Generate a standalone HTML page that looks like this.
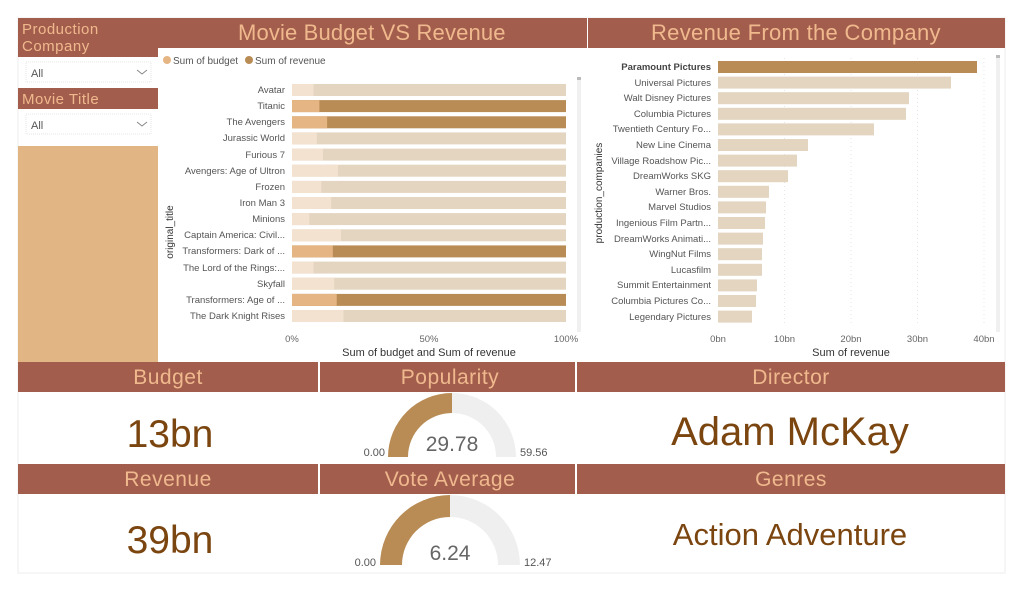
<!DOCTYPE html>
<html><head><meta charset="utf-8"><style>
html,body{margin:0;padding:0;background:#fff;}
svg{display:block;font-family:"Liberation Sans",sans-serif;}
</style></head><body>
<svg width="1024" height="592" viewBox="0 0 1024 592" xmlns="http://www.w3.org/2000/svg">
<rect width="1024" height="592" fill="#fff"/>
<rect x="18" y="18" width="987" height="555" fill="none" stroke="#eeeeee"/>
<rect x="18" y="18" width="140" height="39" fill="#a35d4d"/>
<text x="22" y="34" font-size="15" fill="#efb98d" letter-spacing="0.5">Production</text>
<text x="22" y="51" font-size="15" fill="#efb98d" letter-spacing="0.5">Company</text>
<rect x="26" y="62" width="125" height="20" fill="#fff" stroke="#e6e6e6" stroke-dasharray="1,1"/>
<text x="31" y="77" font-size="11" fill="#555">All</text>
<path d="M137 70 l5 4 l5 -4" fill="none" stroke="#888"/>
<rect x="18" y="88" width="140" height="21" fill="#a35d4d"/>
<text x="22" y="104" font-size="15" fill="#efb98d" letter-spacing="0.5">Movie Title</text>
<rect x="26" y="114" width="125" height="20" fill="#fff" stroke="#e6e6e6" stroke-dasharray="1,1"/>
<text x="31" y="129" font-size="11" fill="#555">All</text>
<path d="M137 122 l5 4 l5 -4" fill="none" stroke="#888"/>
<rect x="18" y="146" width="140" height="216" fill="#e2b584"/>

<rect x="158" y="18" width="429" height="30" fill="#a35d4d"/>
<text x="372" y="40" font-size="22" fill="#efb98d" text-anchor="middle" textLength="268" letter-spacing="0.5">Movie Budget VS Revenue</text>
<circle cx="167" cy="60" r="4" fill="#e6b584"/>
<text x="173" y="64" font-size="10" fill="#555">Sum of budget</text>
<circle cx="249" cy="60" r="4" fill="#b98c55"/>
<text x="255" y="64" font-size="10" fill="#555">Sum of revenue</text>
<rect x="577" y="77" width="4" height="255" fill="#f0f0f0"/>
<rect x="577" y="77" width="4" height="3" fill="#bbb"/>
<g font-size="9.5" fill="#555" text-anchor="end">
<text x="285" y="93">Avatar</text>
<text x="285" y="109">Titanic</text>
<text x="285" y="125">The Avengers</text>
<text x="285" y="141">Jurassic World</text>
<text x="285" y="158">Furious 7</text>
<text x="285" y="174">Avengers: Age of Ultron</text>
<text x="285" y="190">Frozen</text>
<text x="285" y="206">Iron Man 3</text>
<text x="285" y="222">Minions</text>
<text x="285" y="238">Captain America: Civil...</text>
<text x="285" y="254">Transformers: Dark of ...</text>
<text x="285" y="271">The Lord of the Rings:...</text>
<text x="285" y="287">Skyfall</text>
<text x="285" y="303">Transformers: Age of ...</text>
<text x="285" y="319">The Dark Knight Rises</text>
</g>
<text transform="translate(173,232) rotate(-90)" font-size="10" fill="#333" text-anchor="middle">original_title</text>
<g>
<rect x="292" y="84" width="274" height="12" fill="#e3d5c0"/><rect x="292" y="84" width="21.6" height="12" fill="#f3e2cf"/>
<rect x="292" y="100.1" width="274" height="12" fill="#b98c55"/><rect x="292" y="100.1" width="27.4" height="12" fill="#e6b584"/>
<rect x="292" y="116.3" width="274" height="12" fill="#b98c55"/><rect x="292" y="116.3" width="35.1" height="12" fill="#e6b584"/>
<rect x="292" y="132.4" width="274" height="12" fill="#e3d5c0"/><rect x="292" y="132.4" width="24.9" height="12" fill="#f3e2cf"/>
<rect x="292" y="148.6" width="274" height="12" fill="#e3d5c0"/><rect x="292" y="148.6" width="31" height="12" fill="#f3e2cf"/>
<rect x="292" y="164.7" width="274" height="12" fill="#e3d5c0"/><rect x="292" y="164.7" width="46" height="12" fill="#f3e2cf"/>
<rect x="292" y="180.9" width="274" height="12" fill="#e3d5c0"/><rect x="292" y="180.9" width="29.3" height="12" fill="#f3e2cf"/>
<rect x="292" y="197" width="274" height="12" fill="#e3d5c0"/><rect x="292" y="197" width="39.2" height="12" fill="#f3e2cf"/>
<rect x="292" y="213.1" width="274" height="12" fill="#e3d5c0"/><rect x="292" y="213.1" width="17.3" height="12" fill="#f3e2cf"/>
<rect x="292" y="229.3" width="274" height="12" fill="#e3d5c0"/><rect x="292" y="229.3" width="49" height="12" fill="#f3e2cf"/>
<rect x="292" y="245.4" width="274" height="12" fill="#b98c55"/><rect x="292" y="245.4" width="40.8" height="12" fill="#e6b584"/>
<rect x="292" y="261.6" width="274" height="12" fill="#e3d5c0"/><rect x="292" y="261.6" width="21.6" height="12" fill="#f3e2cf"/>
<rect x="292" y="277.7" width="274" height="12" fill="#e3d5c0"/><rect x="292" y="277.7" width="42.2" height="12" fill="#f3e2cf"/>
<rect x="292" y="293.9" width="274" height="12" fill="#b98c55"/><rect x="292" y="293.9" width="44.7" height="12" fill="#e6b584"/>
<rect x="292" y="310" width="274" height="12" fill="#e3d5c0"/><rect x="292" y="310" width="51.5" height="12" fill="#f3e2cf"/>
</g>
<g font-size="9.5" fill="#666" text-anchor="middle">
<text x="292" y="342">0%</text><text x="429" y="342">50%</text><text x="566" y="342">100%</text>
</g>
<text x="429" y="356" font-size="11" fill="#333" text-anchor="middle">Sum of budget and Sum of revenue</text>

<rect x="588" y="18" width="417" height="30" fill="#a35d4d"/>
<text x="796" y="40" font-size="22" fill="#efb98d" text-anchor="middle" textLength="290" letter-spacing="0.5">Revenue From the Company</text>
<rect x="996" y="55" width="4" height="277" fill="#f0f0f0"/>
<rect x="996" y="55" width="4" height="3" fill="#bbb"/>
<g stroke="#e6e6e6" stroke-dasharray="1,3">
<line x1="784.5" y1="58" x2="784.5" y2="326"/><line x1="851" y1="58" x2="851" y2="326"/><line x1="917.5" y1="58" x2="917.5" y2="326"/><line x1="984" y1="58" x2="984" y2="326"/>
</g>
<g font-size="9.5" fill="#555" text-anchor="end">
<text x="711" y="70" font-weight="bold" fill="#444">Paramount Pictures</text>
<text x="711" y="86">Universal Pictures</text>
<text x="711" y="101">Walt Disney Pictures</text>
<text x="711" y="117">Columbia Pictures</text>
<text x="711" y="132">Twentieth Century Fo...</text>
<text x="711" y="148">New Line Cinema</text>
<text x="711" y="164">Village Roadshow Pic...</text>
<text x="711" y="179">DreamWorks SKG</text>
<text x="711" y="195">Warner Bros.</text>
<text x="711" y="210">Marvel Studios</text>
<text x="711" y="226">Ingenious Film Partn...</text>
<text x="711" y="242">DreamWorks Animati...</text>
<text x="711" y="257">WingNut Films</text>
<text x="711" y="273">Lucasfilm</text>
<text x="711" y="288">Summit Entertainment</text>
<text x="711" y="304">Columbia Pictures Co...</text>
<text x="711" y="320">Legendary Pictures</text>
</g>
<text transform="translate(602,193) rotate(-90)" font-size="10" fill="#333" text-anchor="middle">production_companies</text>
<g fill="#e3d5c0">
<rect x="718" y="61" width="259" height="12" fill="#b98c55"/>
<rect x="718" y="76.6" width="233" height="12"/>
<rect x="718" y="92.2" width="191" height="12"/>
<rect x="718" y="107.8" width="188" height="12"/>
<rect x="718" y="123.4" width="156" height="12"/>
<rect x="718" y="139" width="90" height="12"/>
<rect x="718" y="154.6" width="79" height="12"/>
<rect x="718" y="170.2" width="70" height="12"/>
<rect x="718" y="185.8" width="51" height="12"/>
<rect x="718" y="201.4" width="48" height="12"/>
<rect x="718" y="217" width="47" height="12"/>
<rect x="718" y="232.6" width="45" height="12"/>
<rect x="718" y="248.2" width="44" height="12"/>
<rect x="718" y="263.8" width="44" height="12"/>
<rect x="718" y="279.4" width="39" height="12"/>
<rect x="718" y="295" width="38" height="12"/>
<rect x="718" y="310.6" width="34" height="12"/>
</g>
<g font-size="9.5" fill="#666" text-anchor="middle">
<text x="718" y="342">0bn</text><text x="784.5" y="342">10bn</text><text x="851" y="342">20bn</text><text x="917.5" y="342">30bn</text><text x="984" y="342">40bn</text>
</g>
<text x="851" y="356" font-size="11" fill="#333" text-anchor="middle">Sum of revenue</text>

<g fill="#a35d4d">
<rect x="18" y="362" width="300" height="30"/>
<rect x="320" y="362" width="255" height="30"/>
<rect x="577" y="362" width="428" height="30"/>
<rect x="18" y="464" width="300" height="30"/>
<rect x="320" y="464" width="255" height="30"/>
<rect x="577" y="464" width="428" height="30"/>
</g>
<g font-size="21" fill="#efb98d" text-anchor="middle" letter-spacing="0.5">
<text x="168" y="384">Budget</text>
<text x="450" y="384">Popularity</text>
<text x="791" y="384">Director</text>
<text x="168" y="486">Revenue</text>
<text x="450" y="486">Vote Average</text>
<text x="791" y="486">Genres</text>
</g>
<g fill="#7b4510" text-anchor="middle">
<text x="170" y="447" font-size="39">13bn</text>
<text x="170" y="553" font-size="39">39bn</text>
<text x="790" y="445" font-size="40">Adam McKay</text>
<text x="790" y="545" font-size="31">Action Adventure</text>
</g>
<path d="M388 457 A64 64 0 0 1 452 393 L452 413 A44 44 0 0 0 408 457 Z" fill="#b98c55"/>
<path d="M452 393 A64 64 0 0 1 516 457 L496 457 A44 44 0 0 0 452 413 Z" fill="#efefef"/>
<text x="452" y="451" font-size="21" fill="#666" text-anchor="middle">29.78</text>
<text x="385" y="456" font-size="11" fill="#555" text-anchor="end">0.00</text>
<text x="520" y="456" font-size="11" fill="#555">59.56</text>
<path d="M380 565 A70 70 0 0 1 450 495 L450 517 A48 48 0 0 0 402 565 Z" fill="#b98c55"/>
<path d="M450 495 A70 70 0 0 1 520 565 L498 565 A48 48 0 0 0 450 517 Z" fill="#efefef"/>
<text x="450" y="560" font-size="21" fill="#666" text-anchor="middle">6.24</text>
<text x="376" y="566" font-size="11" fill="#555" text-anchor="end">0.00</text>
<text x="524" y="566" font-size="11" fill="#555">12.47</text>
</svg>
</body></html>
